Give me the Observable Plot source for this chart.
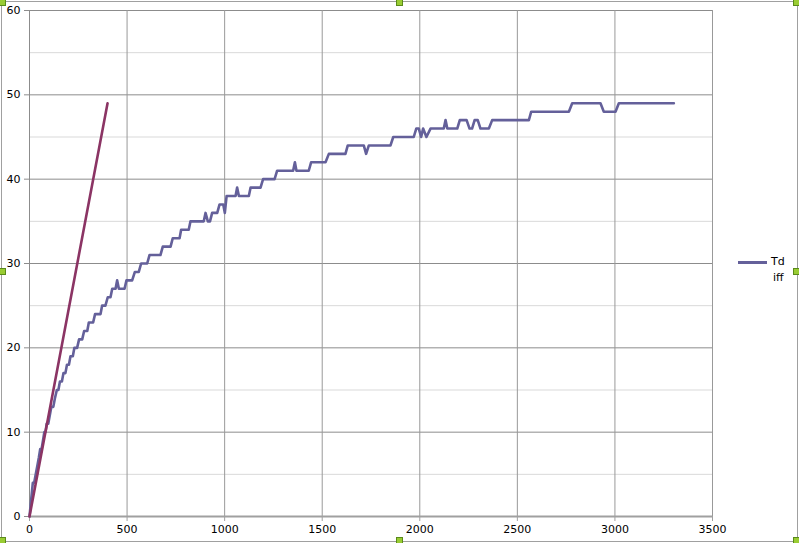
<!DOCTYPE html>
<html>
<head>
<meta charset="utf-8">
<script src="https://cdn.jsdelivr.net/npm/d3@7"></script>
<script src="https://cdn.jsdelivr.net/npm/@observablehq/plot@0.6"></script>
<style>
  html, body { margin: 0; padding: 0; background: #fff; }
  #wrap { position: relative; width: 799px; height: 543px; overflow: hidden; font-family: "DejaVu Sans", sans-serif; }
  #frame { position: absolute; left: 1px; top: 1px; width: 795px; height: 539px; border: 1px solid #a0a0a0; box-sizing: content-box; pointer-events: none; }
  .h { position: absolute; width: 5px; height: 5px; background: #9c3; border: 1px solid #5a8a1a; }
  #legend { position: absolute; left: 738px; top: 255px; font-size: 11px; color: #000; }
  #legend .sw { position: absolute; left: 0; top: 6px; width: 29px; height: 3px; background: #64609a; }
  #legend .t1 { position: absolute; left: 33px; top: 0px; }
  #legend .t2 { position: absolute; left: 35px; top: 16px; }
</style>
</head>
<body>
<div id="wrap">
  <div id="chart"></div>
  <div id="frame"></div>
  <div id="legend"><div class="sw"></div><div class="t1">Td</div><div class="t2">iff</div></div>
  <div class="h" style="left:-1px;top:-1px"></div>
  <div class="h" style="left:396px;top:-1px"></div>
  <div class="h" style="left:793px;top:-1px"></div>
  <div class="h" style="left:-1px;top:268px"></div>
  <div class="h" style="left:793px;top:268px"></div>
  <div class="h" style="left:-1px;top:537px"></div>
  <div class="h" style="left:396px;top:537px"></div>
  <div class="h" style="left:793px;top:537px"></div>
</div>
<script>
// Tick values
const xTicks = [0, 500, 1000, 1500, 2000, 2500, 3000, 3500];
const yMajor = [0, 10, 20, 30, 40, 50, 60];
const yMinor = [5, 15, 25, 35, 45, 55];

// Series "Tdiff" (vertices)
const tdiffX = [0, 17, 24, 32, 40, 48, 55, 62, 69, 76, 82, 88, 96, 104, 112, 122, 130,
  140, 148, 156, 166, 174, 184, 192, 202, 210, 222, 230, 244, 254, 270, 280, 296,
  304, 326, 336, 364, 372, 389, 401, 415, 424, 441, 449, 458, 487, 497, 526,
  540, 560, 572, 603, 615, 671, 683, 723, 734, 769, 777, 816, 825, 893, 902,
  914, 925, 936, 962, 974, 993, 1001, 1010, 1056, 1064, 1073, 1124, 1133, 1184,
  1197, 1256, 1269, 1351, 1360, 1368, 1431, 1443, 1517, 1534, 1619, 1631, 1713,
  1725, 1739, 1850, 1864, 1969, 1982, 1995, 2007, 2017, 2034, 2055, 2123, 2132,
  2141, 2192, 2205, 2240, 2255, 2268, 2281, 2297, 2311, 2354, 2371, 2559,
  2571, 2764, 2781, 2926, 2943, 3003, 3020, 3302];
const tdiffY = [0, 4, 4, 5, 6, 7, 8, 8, 9, 10, 10, 11, 11, 12, 13, 13, 14,
  15, 15, 16, 16, 17, 17, 18, 18, 19, 19, 20, 20, 21, 21, 22, 22,
  23, 23, 24, 24, 25, 25, 26, 26, 27, 27, 28, 27, 27, 28, 28,
  29, 29, 30, 30, 31, 31, 32, 32, 33, 33, 34, 34, 35, 35, 36,
  35, 35, 36, 36, 37, 37, 36, 38, 38, 39, 38, 38, 39, 39,
  40, 40, 41, 41, 42, 41, 41, 42, 42, 43, 43, 44, 44,
  43, 44, 44, 45, 45, 46, 46, 45, 46, 45, 46, 46, 47,
  46, 46, 47, 47, 46, 46, 47, 47, 46, 46, 47, 47,
  48, 48, 49, 49, 48, 48, 49, 49];

// Second series (straight line)
const refX = [0, 400];
const refY = [0, 49];

const tdiff = tdiffX.map((x, i) => ({x, y: tdiffY[i]}));
const ref = refX.map((x, i) => ({x, y: refY[i]}));

const chart = Plot.plot({
  width: 799,
  height: 543,
  marginLeft: 29,
  marginRight: 87,
  marginTop: 10,
  marginBottom: 27,
  style: {fontFamily: "DejaVu Sans, sans-serif", fontSize: "11px", color: "#000", background: "transparent"},
  x: {domain: [0, 3500], label: null},
  y: {domain: [0, 60], label: null},
  marks: [
    Plot.ruleY(yMinor, {stroke: "#d9d9d9", strokeWidth: 1}),
    Plot.ruleY(yMajor, {stroke: "#8c8c8c", strokeWidth: 1}),
    Plot.ruleX(xTicks, {stroke: "#999999", strokeWidth: 1}),
    Plot.ruleX([0], {stroke: "#8c8c8c", strokeWidth: 1}),
    Plot.ruleY([0], {stroke: "#a0a0a0", strokeWidth: 2}),
    Plot.axisY({ticks: yMajor, tickSize: 5, tickPadding: 4, stroke: "#8c8c8c", tickFormat: d => String(d), fill: "#000"}),
    Plot.axisX({ticks: xTicks, tickSize: 5, tickPadding: 4, stroke: "#a0a0a0", tickFormat: d => String(d), fill: "#000"}),
    Plot.line(tdiff, {x: "x", y: "y", stroke: "#64609a", strokeWidth: 2.6, strokeLinejoin: "round"}),
    Plot.line(ref, {x: "x", y: "y", stroke: "#8b3464", strokeWidth: 2.6})
  ]
});
document.getElementById("chart").appendChild(chart);
</script>
</body>
</html>
